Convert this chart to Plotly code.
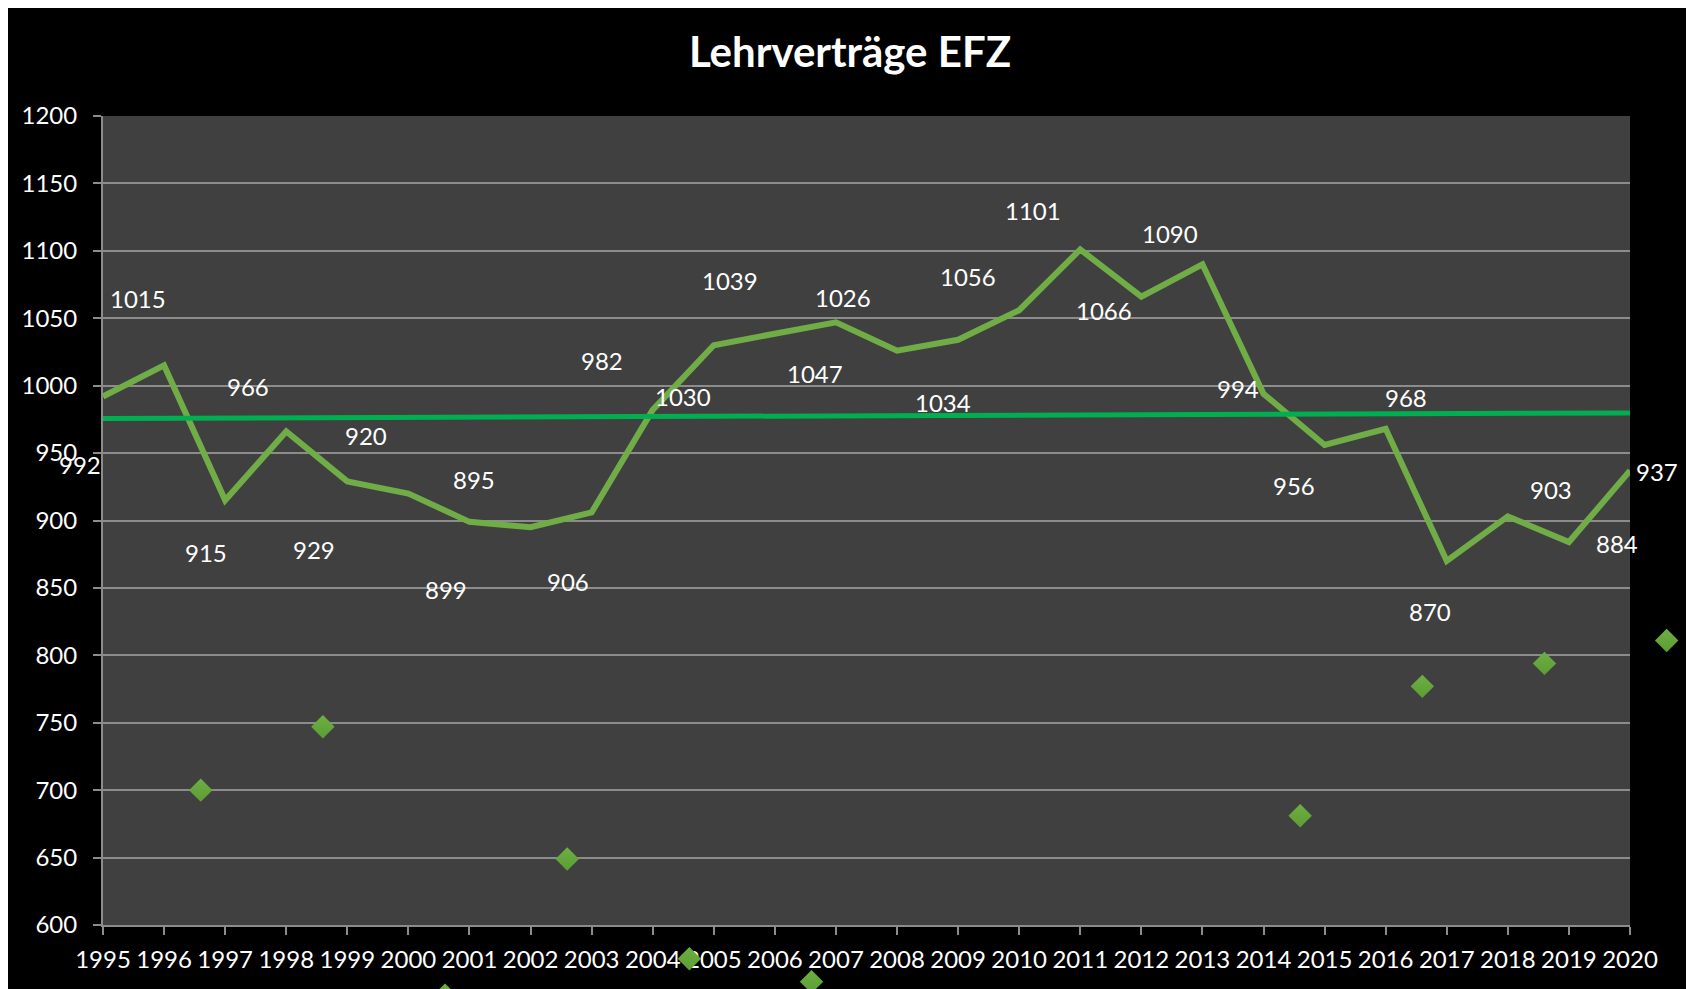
import numpy as np
import plotly.graph_objects as go

# Lehrverträge EFZ per year
years = list(range(1995, 2021))
contracts = [992, 1015, 915, 966, 929, 920, 899, 895, 906, 982, 1030, 1039, 1047,
             1026, 1034, 1056, 1101, 1066, 1090, 994, 956, 968, 870, 903, 884, 937]

# second series (diamonds), sits between the years
diamond_x = [1996.6, 1998.6, 2000.6, 2002.6, 2004.6, 2006.6, 2008.6, 2010.6,
             2012.6, 2014.6, 2016.6, 2018.6, 2020.6]
diamond_y = [700, 747, 548, 649, 575, 558, None, None, None, 681, 777, 794, 811]

# label offsets in pixels (dx right, dy down) - excel put them all over the place
label_dx = [-23, -26, -19, -38, -33, -42, -23, -57, -24, -51, -31, -45, -21,
            -54, -15, -51, -47, -37, -32, -26, -31, 20, -17, 43, 48, 27]
label_dy = [68, -67, 52, -45, 68, -58, 68, -48, 69, -49, 51, -53, 51,
            -53, 63, -34, -39, 14, -31, -5, 41, -31, 51, -27, 1, 1]

FONT = "Lato"
line_green = "#70AD47"
trend_green = "#00B050"
grid = "#8C8C8C"

W, H = 1694, 989
# plot area in figure pixels
L, R, T, B = 95, 1622, 108, 917
X0, X1, Y0, Y1 = 1995, 2020, 600, 1200

# linear trend line
slope, intercept = np.polyfit(years, contracts, 1)
trend = [slope * y + intercept for y in years]

# second invisible axis pair spanning the whole figure, same scale as the main one,
# so the diamonds that fall outside the plot area still get drawn
px_x = (R - L) / (X1 - X0)
px_y = (B - T) / (Y1 - Y0)
x2_range = [X0 - L / px_x, X0 + (W - L) / px_x]
y2_range = [Y0 - (H - B) / px_y, Y1 + T / px_y]

fig = go.Figure()

fig.add_trace(go.Scatter(x=years, y=contracts, mode="lines",
                         line=dict(color=line_green, width=6),
                         name="Lehrverträge"))

fig.add_trace(go.Scatter(x=years, y=trend, mode="lines",
                         line=dict(color=trend_green, width=5),
                         name="Trend"))

fig.add_trace(go.Scatter(x=diamond_x, y=diamond_y, mode="markers",
                         xaxis="x2", yaxis="y2",
                         marker=dict(symbol="diamond", size=18, color="#6DB043",
                                     line=dict(width=0),
                                     gradient=dict(type="vertical", color="#5C9C35")),
                         name="EFZ"))

for yr, val, dx, dy in zip(years, contracts, label_dx, label_dy):
    fig.add_annotation(x=yr, y=val, text=str(val), showarrow=False,
                       xshift=dx, yshift=-dy,
                       font=dict(family=FONT, size=24, color="white"))

# grey plot area
fig.add_shape(type="rect", xref="x domain", yref="y domain", x0=0, x1=1, y0=0, y1=1,
              fillcolor="#404040", line_width=0, layer="below")
# white edge on the right of the original screenshot
fig.add_shape(type="rect", xref="paper", yref="paper", x0=1679 / W, x1=1, y0=0, y1=1,
              fillcolor="white", line_width=0, layer="above")

fig.update_layout(
    width=W, height=H,
    margin=dict(l=0, r=0, t=0, b=0, autoexpand=False),
    paper_bgcolor="black",
    plot_bgcolor="rgba(0,0,0,0)",
    showlegend=False,
    font=dict(family=FONT, size=24, color="white"),
    title=dict(text="<b>Lehrverträge EFZ</b>", x=842 / W, xanchor="center",
               xref="container", y=1 - 44 / H, yanchor="middle", yref="container",
               font=dict(family=FONT, size=42, color="white")),
    xaxis=dict(domain=[L / W, R / W], range=[X0, X1], tickmode="linear",
               tick0=1995, dtick=1, automargin=False,
               showgrid=False, zeroline=False,
               showline=True, linecolor=grid, linewidth=2,
               ticks="outside", ticklen=8, tickcolor=grid, tickwidth=2,
               ticklabelstandoff=4,
               tickfont=dict(family=FONT, size=24, color="white")),
    yaxis=dict(domain=[(H - B) / H, (H - T) / H], range=[Y0, Y1], tickmode="linear",
               tick0=600, dtick=50, automargin=False,
               showgrid=True, gridcolor=grid, gridwidth=2, zeroline=False,
               showline=True, linecolor=grid, linewidth=2,
               ticks="outside", ticklen=8, tickcolor=grid, tickwidth=2,
               ticklabelstandoff=11,
               tickfont=dict(family=FONT, size=24, color="white")),
    xaxis2=dict(domain=[0, 1], range=x2_range, anchor="y2", visible=False,
                automargin=False),
    yaxis2=dict(domain=[0, 1], range=y2_range, anchor="x2", visible=False,
                automargin=False),
)

fig.write_html("out.html")
